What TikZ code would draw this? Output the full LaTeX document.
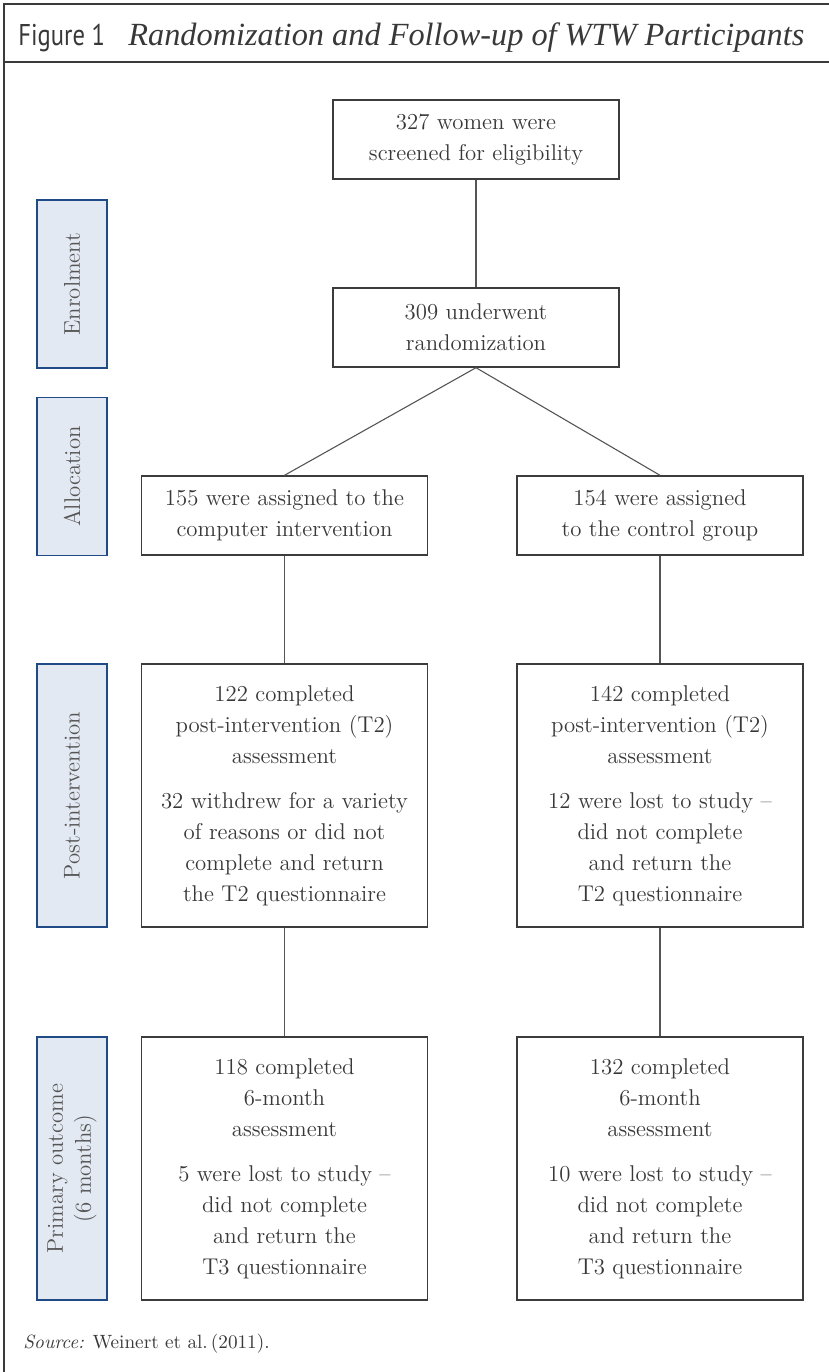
\documentclass[tikz,border=0pt]{standalone}
\usepackage{fontspec}
\usepackage{graphicx}
\newfontfamily\figfont[FakeStretch=0.82]{PT Sans}
\newfontfamily\titlefont{Liberation Serif}
\definecolor{txt}{HTML}{383838}
\definecolor{boxline}{HTML}{3C3C3C}
\definecolor{connline}{HTML}{555555}
\definecolor{framecol}{HTML}{3A3A3A}
\definecolor{sidefill}{HTML}{E3E9F2}
\definecolor{sideline}{HTML}{1F4A86}
\definecolor{sidetxt}{HTML}{555555}
\begin{document}
\begin{tikzpicture}[x=0.5pt,y=-0.5pt,
  box/.style={draw=boxline, line width=0.7pt, minimum width=143pt, align=center,
    text=txt, font=\fontsize{11.4}{15.5}\selectfont, inner sep=0pt},
  side/.style={draw=sideline, fill=sidefill, line width=0.7pt, rotate=90,
    minimum height=35pt, align=center, text=sidetxt,
    font=\fontsize{11.4}{14}\selectfont, inner sep=0pt},
  conn/.style={draw=connline, line width=0.55pt}]
\useasboundingbox (0,0) rectangle (829,1372);
% frame
\draw[framecol, line width=0.8pt] (4,1372) -- (4,4) -- (829,4);
\draw[framecol, line width=0.8pt] (4,62) -- (829,62);
\node[anchor=base west, inner sep=0pt, text=txt, font=\figfont\fontsize{15}{16}\selectfont] (fig) at (18,45) {Figure 1};
\node[anchor=base west, inner sep=0pt, text=txt, font=\titlefont\fontsize{16}{19}\selectfont\itshape] (title) at (128,45) {\resizebox{338pt}{!}{Randomization and Follow-up of WTW Participants}};
% main boxes
\node[box, minimum height=39.5pt] (b1) at (476,139.5) {327 women were\\screened for eligibility};
\node[box, minimum height=39.5pt] (b2) at (476,327.5) {309 underwent\\randomization};
\node[box, minimum height=39.5pt] (al) at (284.5,515.5) {155 were assigned to the\\computer intervention};
\node[box, minimum height=39.5pt] (ar) at (660,515.5) {154 were assigned\\to the control group};
\node[box, minimum height=131.5pt] (pl) at (284.5,795.5) {122 completed\\post-intervention (T2)\\assessment\\[7pt]32 withdrew for a variety\\of reasons or did not\\complete and return\\the T2 questionnaire};
\node[box, minimum height=131.5pt] (pr) at (660,795.5) {142 completed\\post-intervention (T2)\\assessment\\[7pt]12 were lost to study --\\did not complete\\and return the\\T2 questionnaire};
\node[box, minimum height=131.5pt] (ql) at (284.5,1168.5) {118 completed\\6-month\\assessment\\[7pt]5 were lost to study --\\did not complete\\and return the\\T3 questionnaire};
\node[box, minimum height=131.5pt] (qr) at (660,1168.5) {132 completed\\6-month\\assessment\\[7pt]10 were lost to study --\\did not complete\\and return the\\T3 questionnaire};
% connectors
\draw[conn] (b1.south) -- (b2.north);
\draw[conn] (b2.south) -- (al.north);
\draw[conn] (b2.south) -- (ar.north);
\draw[conn] (al.south) -- (pl.north);
\draw[conn] (ar.south) -- (pr.north);
\draw[conn] (pl.south) -- (ql.north);
\draw[conn] (pr.south) -- (qr.north);
% side labels
\node[side, minimum width=84pt] (s1) at (72,284) {Enrolment};
\node[side, minimum width=79pt] (s2) at (72,476.5) {Allocation};
\node[side, minimum width=131.5pt] (s3) at (72,795.5) {Post-intervention};
\node[side, minimum width=131.5pt] (s4) at (72,1168.5) {Primary outcome\\(6 months)};
% source
\node[anchor=base west, inner sep=0pt, text=txt, font=\fontsize{9.6}{11}\selectfont] (src) at (23,1348) {\textit{Source:} Weinert et al.\,(2011).};
\end{tikzpicture}
\end{document}
